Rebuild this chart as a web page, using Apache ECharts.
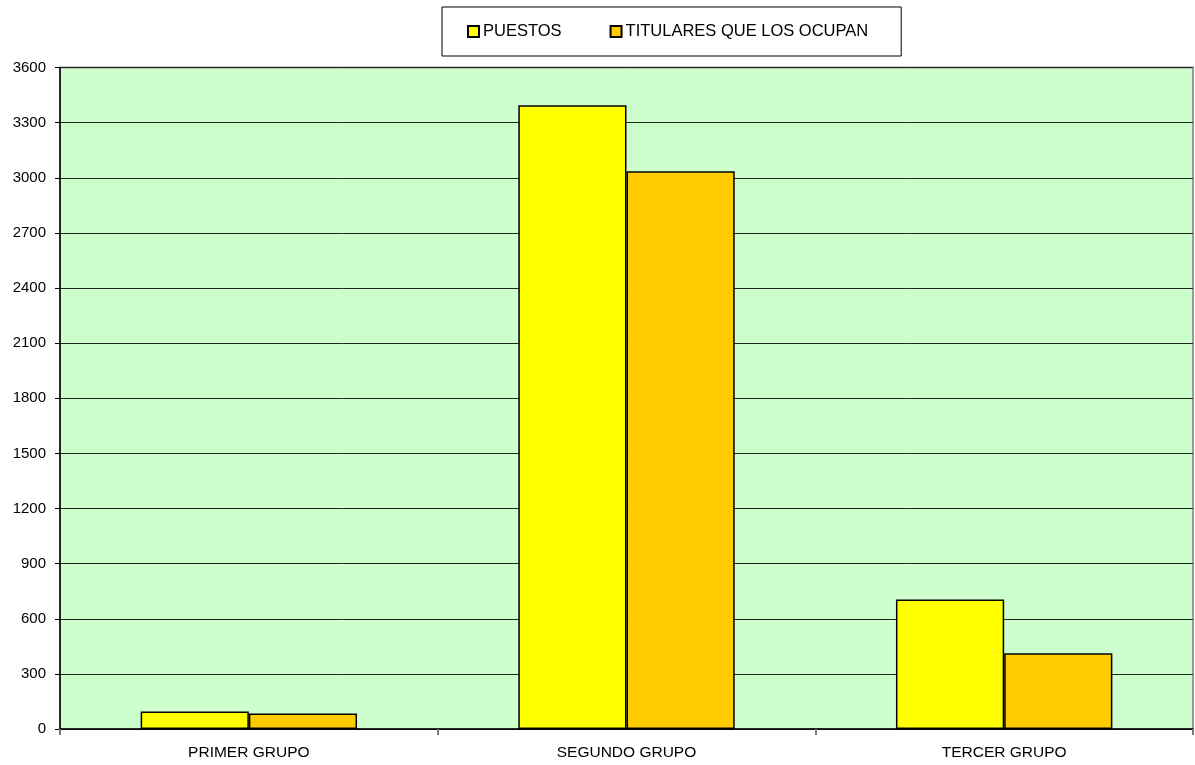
<!DOCTYPE html>
<html>
<head>
<meta charset="utf-8">
<script src="https://cdn.jsdelivr.net/npm/echarts@6/dist/echarts.min.js"></script>
<style>
  html, body { margin: 0; padding: 0; background: #fff; }
  #chart { width: 1195px; height: 765px; }
</style>
</head>
<body>
<div id="chart"></div>
<script>
  // datos
  var categorias = ['PRIMER GRUPO', 'SEGUNDO GRUPO', 'TERCER GRUPO'];
  var puestos = [95, 3395, 705];
  var titulares = [85, 3035, 412];
  var nombresSeries = ['PUESTOS', 'TITULARES QUE LOS OCUPAN'];

  var fuente = 'Liberation Sans, Arial, sans-serif';

  var option = {
    animation: false,
    backgroundColor: '#ffffff',
    legend: {
      data: nombresSeries,
      left: 442,
      top: 7,
      padding: [16, 33, 16, 25],
      itemWidth: 11,
      itemHeight: 11,
      itemGap: 48,
      icon: 'rect',
      borderColor: '#000',
      borderWidth: 1,
      backgroundColor: '#fff',
      textStyle: { fontFamily: fuente, fontSize: 16.5, color: '#000', padding: [0, 0, 0, -1] }
    },
    grid: {
      show: true,
      left: 60,
      right: 2,
      top: 67.5,
      bottom: 36,
      backgroundColor: '#CCFFCC',
      borderColor: '#999',
      borderWidth: 2
    },
    xAxis: {
      type: 'category',
      data: categorias,
      axisLine: { lineStyle: { color: '#000', width: 1.5 } },
      axisTick: { show: true, length: 6, lineStyle: { color: '#777', width: 2 } },
      axisLabel: { fontFamily: fuente, fontSize: 15.5, color: '#000', margin: 16 }
    },
    yAxis: {
      type: 'value',
      min: 0,
      max: 3600,
      interval: 300,
      axisLine: { show: true, lineStyle: { color: '#000', width: 1.5 } },
      axisTick: { show: true, length: 5, lineStyle: { color: '#000' } },
      axisLabel: {
        fontFamily: fuente, fontSize: 15, color: '#000', margin: 14,
        formatter: function (v) { return String(v); }
      },
      splitLine: { show: true, lineStyle: { color: '#222', width: 1 } }
    },
    series: [
      {
        name: nombresSeries[0],
        type: 'bar',
        data: puestos,
        barGap: '0%',
        barCategoryGap: '42.7%',
        itemStyle: { color: '#FFFF00', borderColor: '#000', borderWidth: 1.5 }
      },
      {
        name: nombresSeries[1],
        type: 'bar',
        data: titulares,
        itemStyle: { color: '#FFCC00', borderColor: '#000', borderWidth: 1.5 }
      }
    ]
  };

  var myChart = echarts.init(document.getElementById('chart'));
  myChart.setOption(option);
</script>
</body>
</html>
